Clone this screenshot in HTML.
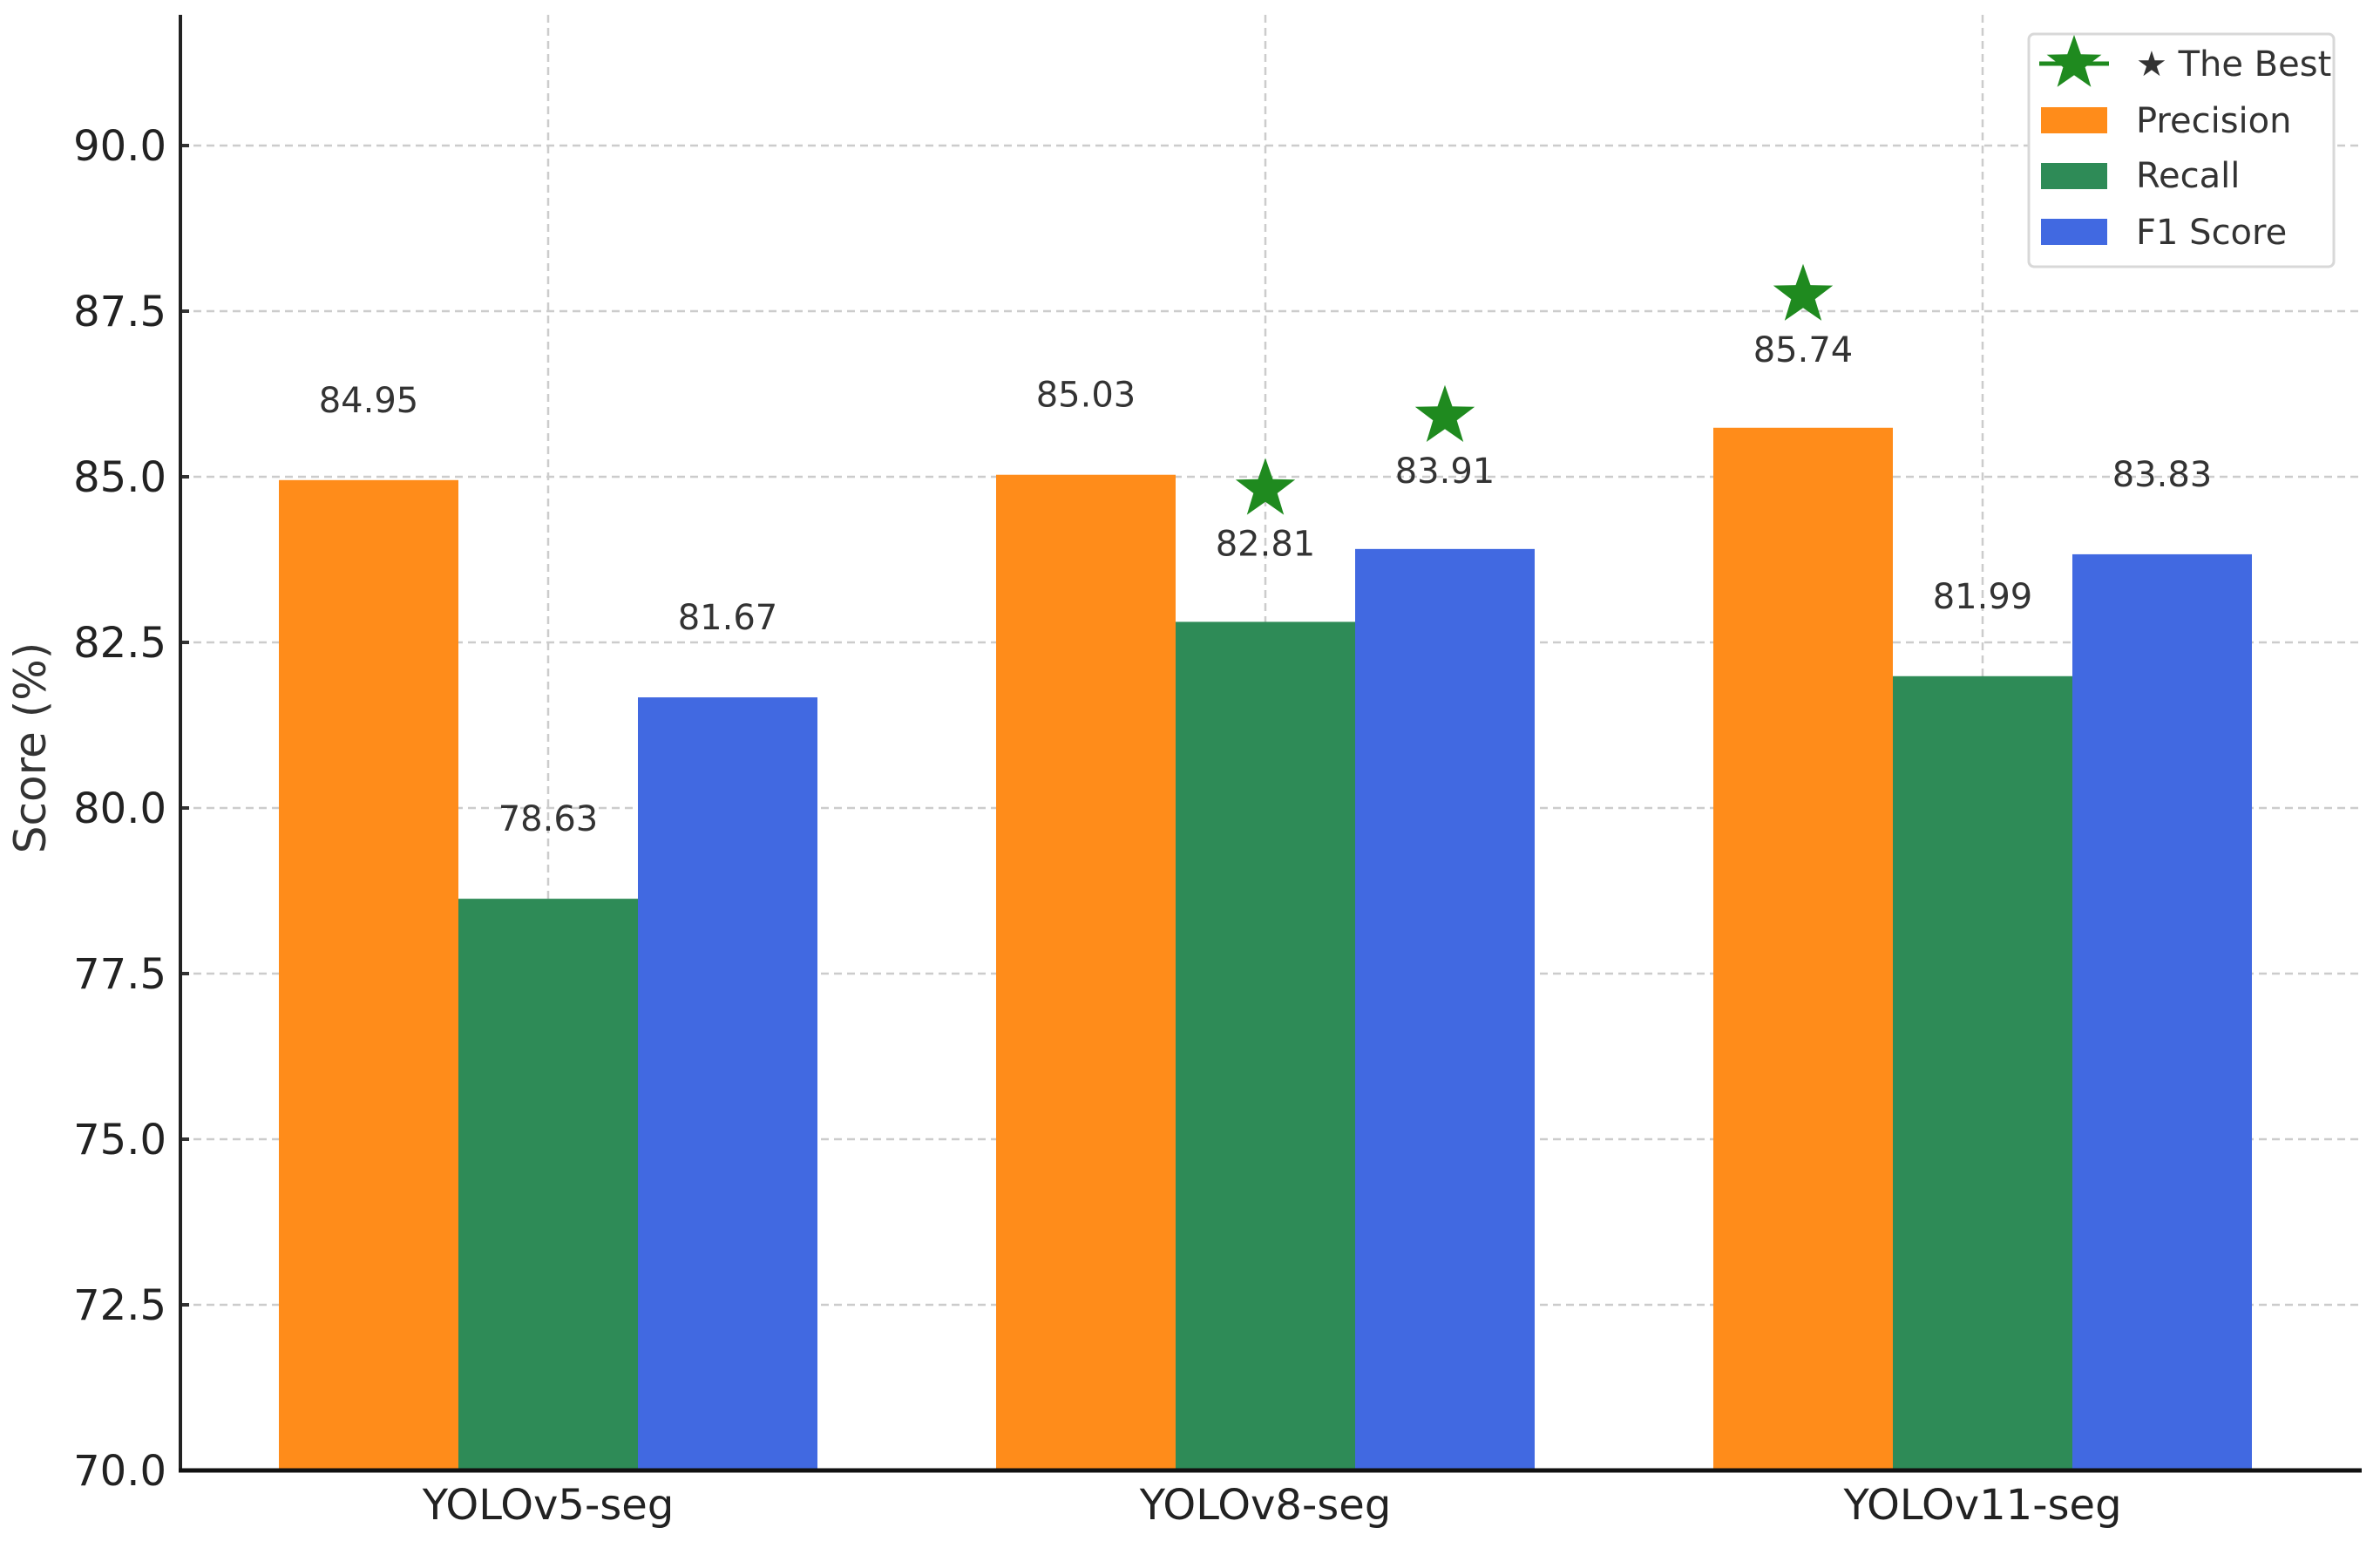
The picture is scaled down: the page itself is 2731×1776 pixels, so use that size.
<!DOCTYPE html>
<html><head><meta charset="utf-8"><style>
html,body{margin:0;padding:0;background:#fff}
svg{display:block;font-family:"DejaVu Sans","Liberation Sans",sans-serif}
</style></head><body>
<svg id="chart" width="2731" height="1776" viewBox="0 0 2731 1776">
<g id="grid"></g>
<g id="bars"></g>
<g id="labels"></g>
<g id="axes"></g>
<text x="52" y="858" font-size="50" fill="#333" text-anchor="middle" transform="rotate(-90 52 858)">Score (%)</text>
<g>
<rect x="2328" y="39" width="350" height="267" rx="6" fill="#fff" stroke="#d8d8d8" stroke-width="3"/>
<g>
<line x1="2340" y1="73" x2="2420" y2="73" stroke="#1f8a1f" stroke-width="5"/>
<path id="legstar" fill="#1f8a1f"/>
<text x="2451" y="87" font-size="40" fill="#333">★ The Best</text>
</g>
<g><rect x="2342" y="123" width="76" height="30" fill="#FF8C1A"/><text x="2451" y="152" font-size="40" fill="#333">Precision</text></g>
<g><rect x="2342" y="187" width="76" height="30" fill="#2E8B57"/><text x="2451" y="215" font-size="40" fill="#333">Recall</text></g>
<g><rect x="2342" y="251" width="76" height="30" fill="#4169E1"/><text x="2451" y="280" font-size="40" fill="#333">F1 Score</text></g>
</g>
</svg>
<script>
const categories = ["YOLOv5-seg", "YOLOv8-seg", "YOLOv11-seg"];
const precision = [84.95, 85.03, 85.74];
const recall = [78.63, 82.81, 81.99];
const f1 = [81.67, 83.91, 83.83];
const yTicks = [70.0, 72.5, 75.0, 77.5, 80.0, 82.5, 85.0, 87.5, 90.0];
const seriesNames = ["Precision", "Recall", "F1 Score"];
const seriesColors = ["#FF8C1A", "#2E8B57", "#4169E1"];

const NS = "http://www.w3.org/2000/svg";
const X0 = 207, X1 = 2710, YTOP = 17;
const yScale = v => 547 + (85 - v) * 76;
const groupX = i => 629 + i * 823;
const BW = 206;
function mk(tag, attrs, parent) { const e = document.createElementNS(NS, tag); for (const k in attrs) e.setAttribute(k, attrs[k]); parent.appendChild(e); return e; }
function starPath(cx, cy, R) { const r = R * 0.4; let d = ""; for (let i = 0; i < 10; i++) { const a = -Math.PI / 2 + i * Math.PI / 5; const rr = i % 2 ? r : R; d += (i ? "L" : "M") + (cx + rr * Math.cos(a)).toFixed(1) + " " + (cy + rr * Math.sin(a)).toFixed(1); } return d + "Z"; }
document.getElementById("legstar").setAttribute("d", starPath(2380, 73, 33));

const grid = document.getElementById("grid"), bars = document.getElementById("bars"), labels = document.getElementById("labels"), axes = document.getElementById("axes");
yTicks.forEach(t => {
  const y = yScale(t);
  const gl = mk("line", { x1: X0, x2: X1, y1: y, y2: y, stroke: "#ccc", "stroke-width": 2.5, "stroke-dasharray": "9 6" }, grid);
  
  
  const tk = mk("line", { x1: X0, x2: X0 + 10, y1: y, y2: y, stroke: "#333", "stroke-width": 4 }, axes);
  
  
  const tl = mk("text", { x: X0 - 16, y: y + 17, "font-size": 48, fill: "#222", "text-anchor": "end" }, axes);
  tl.textContent = t.toFixed(1);
  
  
});
categories.forEach((c, i) => {
  const x = groupX(i);
  const vl = mk("line", { x1: x, x2: x, y1: YTOP, y2: yScale(70), stroke: "#ccc", "stroke-width": 2.5, "stroke-dasharray": "9 6" }, grid);
  
  
  const xl = mk("text", { x: x, y: yScale(70) + 56, "font-size": 48, fill: "#222", "text-anchor": "middle" }, axes);
  xl.textContent = c;
  
  
});
const allSeries = [precision, recall, f1];
const best = allSeries.map(s => Math.max(...s));
allSeries.forEach((s, si) => {
  s.forEach((v, i) => {
    const cx = groupX(i) + (si - 1) * BW;
    const top = yScale(v);
    const b = mk("rect", { x: cx - BW / 2, y: top, width: BW, height: yScale(70) - top, fill: seriesColors[si] }, bars);
    
    
    const isBest = v === best[si];
    const lbl = mk("text", { x: cx, y: top - (isBest ? 90 : 92) + 14, "font-size": 40, fill: "#333", "text-anchor": "middle" }, labels);
    lbl.textContent = v.toFixed(2);
    
    
    if (isBest) {
      const st = mk("path", { d: starPath(cx, top - 152, 36), fill: "#1f8a1f" }, labels);
      
      
    }
  });
});
const ya = mk("line", { x1: X0, x2: X0, y1: YTOP, y2: yScale(70) + 2, stroke: "#222", "stroke-width": 4 }, axes);


const xa = mk("line", { x1: X0 - 2, x2: X1, y1: yScale(70), y2: yScale(70), stroke: "#111", "stroke-width": 5 }, axes);


</script>
</body></html>
